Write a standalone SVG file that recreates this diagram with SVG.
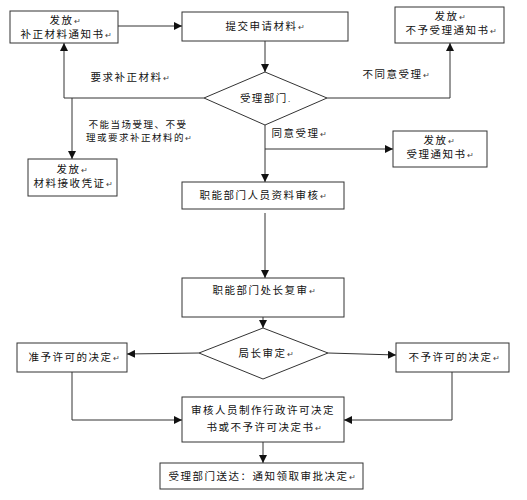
<svg xmlns="http://www.w3.org/2000/svg" width="527" height="500" viewBox="0 0 527 500">
<style>
.box{fill:#fff;stroke:#333;stroke-width:1}
.dia{fill:#fff;stroke:#333;stroke-width:1}
.t{font-family:"Noto Sans CJK SC","Noto Sans CJK JP",sans-serif;font-size:10.5px;letter-spacing:1.5px;fill:#111;text-anchor:middle}
.s{font-size:9.5px}
.r{font-size:8px;letter-spacing:0;fill:#444}
.ln{fill:none;stroke:#333;stroke-width:1}
</style>
<defs>
<marker id="ah" viewBox="0 0 10 10" refX="10" refY="5" markerWidth="8" markerHeight="8" orient="auto" markerUnits="userSpaceOnUse">
<path d="M0,0 L10,5 L0,10 z" fill="#111"/>
</marker>
</defs>
<g id="connectors">
<line class="ln" x1="118" y1="26" x2="182" y2="26" marker-end="url(#ah)"/>
<line class="ln" x1="265" y1="41" x2="265" y2="72" marker-end="url(#ah)"/>
<polyline class="ln" points="204,98 64,98 64,43" marker-end="url(#ah)"/>
<line class="ln" x1="72" y1="98" x2="72" y2="159" marker-end="url(#ah)"/>
<polyline class="ln" points="327,98 450,98 450,43" marker-end="url(#ah)"/>
<line class="ln" x1="265" y1="125" x2="265" y2="182" marker-end="url(#ah)"/>
<line class="ln" x1="265" y1="149" x2="393" y2="149" marker-end="url(#ah)"/>
<line class="ln" x1="265" y1="213" x2="265" y2="278" marker-end="url(#ah)"/>
<line class="ln" x1="263" y1="317" x2="263" y2="328" marker-end="url(#ah)"/>
<line class="ln" x1="199" y1="353" x2="127" y2="354" marker-end="url(#ah)"/>
<line class="ln" x1="328" y1="353" x2="396" y2="355" marker-end="url(#ah)"/>
<polyline class="ln" points="72,372 72,420 182,420" marker-end="url(#ah)"/>
<polyline class="ln" points="452,372 452,420 344,420" marker-end="url(#ah)"/>
<line class="ln" x1="263" y1="442" x2="263" y2="463" marker-end="url(#ah)"/>
<text class="t" x="130" y="81">要求补正材料<tspan class="r">↵</tspan></text>
<text class="t s" x="138" y="128">不能当场受理、不受</text>
<text class="t s" x="139" y="141">理或要求补正材料的<tspan class="r">↵</tspan></text>
<text class="t" x="396" y="78">不同意受理<tspan class="r">↵</tspan></text>
<text class="t" x="299" y="137">同意受理<tspan class="r">↵</tspan></text>
</g>
<g id="n1"><rect class="box" x="10" y="11" width="108" height="32"/>
<text class="t" x="65" y="24">发放<tspan class="r">↵</tspan></text>
<text class="t" x="66" y="38">补正材料通知书<tspan class="r">↵</tspan></text></g>
<g id="n2"><rect class="box" x="182" y="12" width="166" height="29"/>
<text class="t" x="265" y="30">提交申请材料<tspan class="r">↵</tspan></text></g>
<g id="n3"><rect class="box" x="395" y="7" width="109" height="36"/>
<text class="t" x="450" y="20">发放<tspan class="r">↵</tspan></text>
<text class="t" x="451" y="34">不予受理通知书<tspan class="r">↵</tspan></text></g>
<g id="d1"><polygon class="dia" points="265,72 327,98 265,125 204,98"/>
<text class="t" x="265" y="102">受理部门<tspan class="r">.</tspan></text></g>
<g id="n4"><rect class="box" x="28" y="159" width="89" height="37"/>
<text class="t" x="72" y="173">发放<tspan class="r">↵</tspan></text>
<text class="t" x="73" y="187">材料接收凭证<tspan class="r">↵</tspan></text></g>
<g id="n5"><rect class="box" x="393" y="131" width="94" height="36"/>
<text class="t" x="439" y="144">发放<tspan class="r">↵</tspan></text>
<text class="t" x="440" y="158">受理通知书<tspan class="r">↵</tspan></text></g>
<g id="n6"><rect class="box" x="182" y="182" width="162" height="27"/>
<text class="t" x="263" y="199">职能部门人员资料审核<tspan class="r">↵</tspan></text></g>
<g id="n7"><rect class="box" x="182" y="278" width="162" height="39"/>
<text class="t" x="264" y="294">职能部门处长复审<tspan class="r">↵</tspan></text></g>
<g id="d2"><polygon class="dia" points="263,328 328,353 263,379 199,353"/>
<text class="t" x="266" y="357">局长审定<tspan class="r">↵</tspan></text></g>
<g id="n8"><rect class="box" x="17" y="343" width="110" height="29"/>
<text class="t" x="74" y="361">准予许可的决定<tspan class="r">↵</tspan></text></g>
<g id="n9"><rect class="box" x="396" y="343" width="113" height="29"/>
<text class="t" x="454" y="361">不予许可的决定<tspan class="r">↵</tspan></text></g>
<g id="n10"><rect class="box" x="182" y="397" width="162" height="45"/>
<text class="t" x="263" y="414">审核人员制作行政许可决定</text>
<text class="t" x="264" y="431">书或不予许可决定书<tspan class="r">↵</tspan></text></g>
<g id="n11"><rect class="box" x="160" y="463" width="203" height="26"/>
<text class="t" x="262" y="480">受理部门送达：通知领取审批决定<tspan class="r">↵</tspan></text></g>
</svg>
